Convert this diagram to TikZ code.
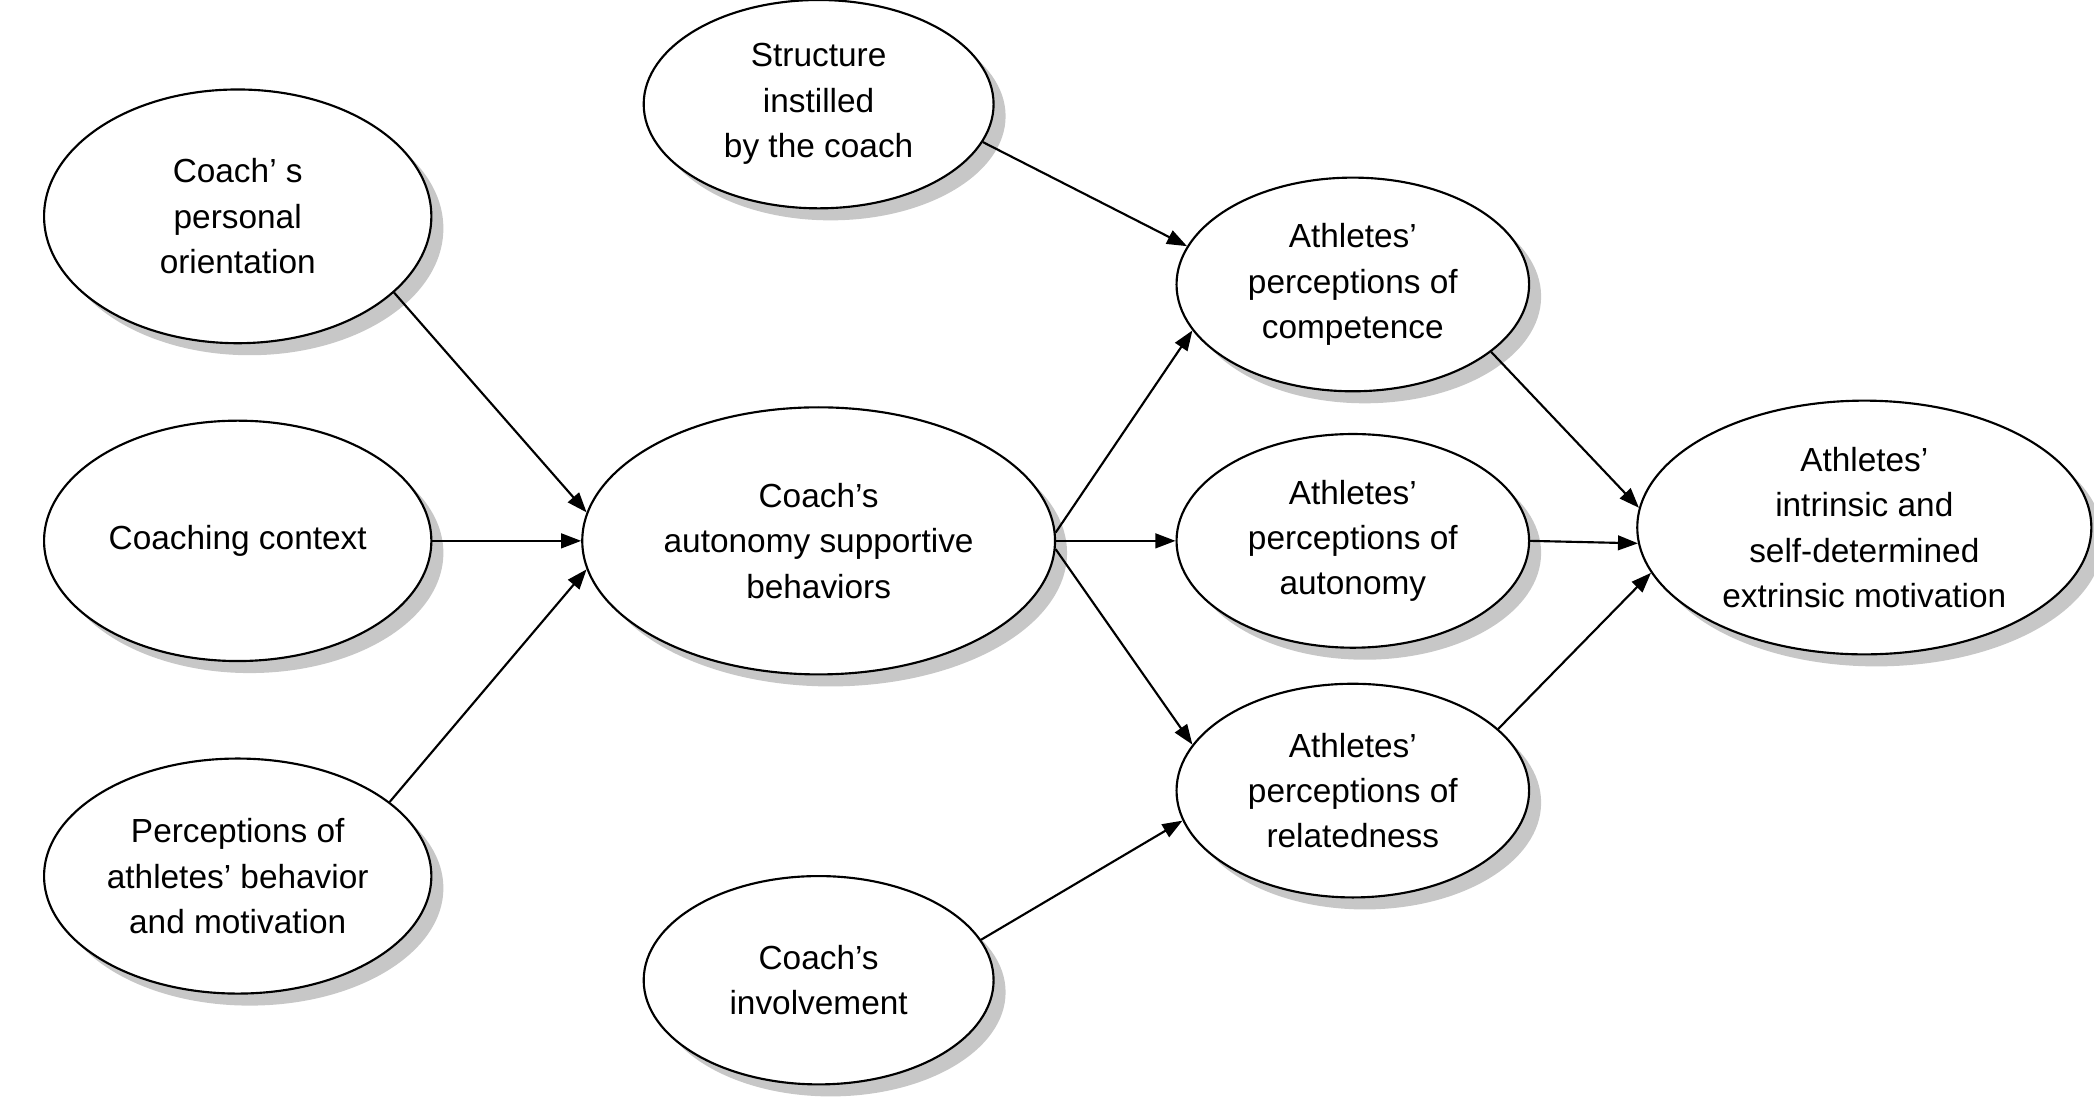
\documentclass[tikz,border=0pt]{standalone}
\usepackage{fontspec}
\setmainfont{Liberation Sans}
\usetikzlibrary{shapes.geometric,arrows.meta,shadows}
\begin{document}
\begin{tikzpicture}[x=1pt,y=1pt,
  el/.style={ellipse,draw,line width=1.6pt,fill=white,inner sep=0pt,align=center,
    font=\fontsize{25}{34}\selectfont,
    drop shadow={shadow xshift=9pt,shadow yshift=-9pt,fill=black!22,opacity=1}},
  ar/.style={line width=1.6pt,-{Triangle[length=15pt,width=11pt]}}]
\useasboundingbox (0,0) rectangle (1568,-824);
\node[el,minimum width=290,minimum height=190] (cpo) at (178,-162) {Coach’ s\\personal\\orientation};
\node[el,minimum width=290,minimum height=180] (cc) at (178,-405) {Coaching context};
\node[el,minimum width=290,minimum height=176] (pab) at (178,-656) {Perceptions of\\athletes’ behavior\\and motivation};
\node[el,minimum width=262,minimum height=156] (st) at (613,-78) {Structure\\instilled\\by the coach};
\node[el,minimum width=354,minimum height=200] (asb) at (613,-405) {Coach’s\\autonomy supportive\\behaviors};
\node[el,minimum width=262,minimum height=156] (inv) at (613,-734) {Coach’s\\involvement};
\node[el,minimum width=264,minimum height=160] (pc) at (1013,-213) {Athletes’\\perceptions of\\competence};
\node[el,minimum width=264,minimum height=160] (pa) at (1013,-405) {Athletes’\\perceptions of\\autonomy};
\node[el,minimum width=264,minimum height=160] (pr) at (1013,-592) {Athletes’\\perceptions of\\relatedness};
\node[el,minimum width=340,minimum height=190] (mot) at (1396,-395) {Athletes’\\intrinsic and\\self-determined\\extrinsic motivation};
\draw[ar] (cpo.-26) -- (asb.173.5);
\draw[ar] (cc.east) -- (asb.west);
\draw[ar] (pab.26) -- (asb.187);
\draw[ar] (st.-13) -- (pc.167);
\draw[ar] (asb.2) -- (pc.196.5);
\draw[ar] (asb.east) -- (pa.west);
\draw[ar] (asb.-2) -- (pr.164);
\draw[ar] (inv.14) -- (pr.190);
\draw[ar] (pc.-26) -- (mot.175.6);
\draw[ar] (pa.east) -- (mot.184);
\draw[ar] (pr.23.7) -- (mot.192);
\end{tikzpicture}
\end{document}
